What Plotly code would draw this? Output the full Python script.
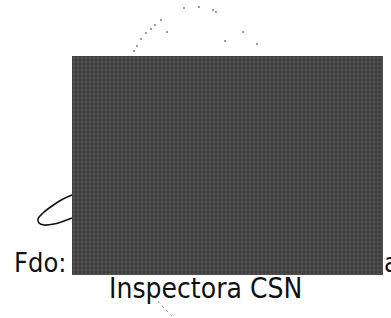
import plotly.graph_objects as go

# Page content (pixel coordinates of the scanned page)
labels = ["Fdo:", "Inspectora CSN", "a"]
label_x = [12, 205, 382]
label_y = [262, 288, 262]
label_anchor = ["left", "center", "left"]
label_size = [27, 28, 27]

# Redaction block: left, right, top, bottom
block_x = [72, 383]
block_y = [56, 275]

# Signature loop
sig_x = [72, 63, 52, 43, 38, 39, 44, 54, 64, 72]
sig_y = [195, 199, 206, 213, 219, 223, 225, 224, 221, 218]

# Faint dotted arc of signature
dot_x = [134, 137, 141, 146, 151, 155, 161, 167, 184, 199, 213, 216, 225, 243, 257]
dot_y = [51, 46, 39, 33, 29, 25, 20, 32, 8, 7, 10, 12, 41, 32, 44]

# Stroke under "Inspectora"
stroke_x = [150, 157, 164, 172]
stroke_y = [292, 300, 308, 316]

W, H = 391, 318
fig = go.Figure()

fig.add_trace(go.Bar(
    x=[(block_x[0] + block_x[1]) / 2], y=[block_y[1] - block_y[0]], base=[block_y[0]],
    width=[block_x[1] - block_x[0]],
    marker=dict(color="#3c3c3c", line=dict(width=0),
                pattern=dict(shape="+", fgcolor="#777777", bgcolor="#3a3a3a", size=4, solidity=0.4)),
    hoverinfo="skip", showlegend=False,
))
fig.add_trace(go.Scatter(x=sig_x, y=sig_y, mode="lines", line=dict(color="#111", width=1.6, shape="spline"),
                         showlegend=False, hoverinfo="skip"))
fig.add_trace(go.Scatter(x=dot_x, y=dot_y, mode="markers", marker=dict(color="#888", size=2.2),
                         showlegend=False, hoverinfo="skip"))
fig.add_trace(go.Scatter(x=stroke_x, y=stroke_y, mode="lines", line=dict(color="#999", width=1, dash="dot"),
                         showlegend=False, hoverinfo="skip"))

for t, x, y, a, s in zip(labels, label_x, label_y, label_anchor, label_size):
    fig.add_annotation(x=x, y=y, text=t, showarrow=False, xanchor=a, yanchor="middle",
                       font=dict(family="DejaVu Sans Condensed, DejaVu Sans", size=s, color="#111"))

fig.update_layout(
    width=W, height=H, margin=dict(l=0, r=0, t=0, b=0),
    paper_bgcolor="white", plot_bgcolor="white", bargap=0,
    xaxis=dict(range=[0, W], visible=False, fixedrange=True),
    yaxis=dict(range=[H, 0], visible=False, fixedrange=True),
)
fig.write_html("out.html", config=dict(displayModeBar=False),
               post_script="document.body.style.margin='0';document.body.style.overflow='hidden';")
